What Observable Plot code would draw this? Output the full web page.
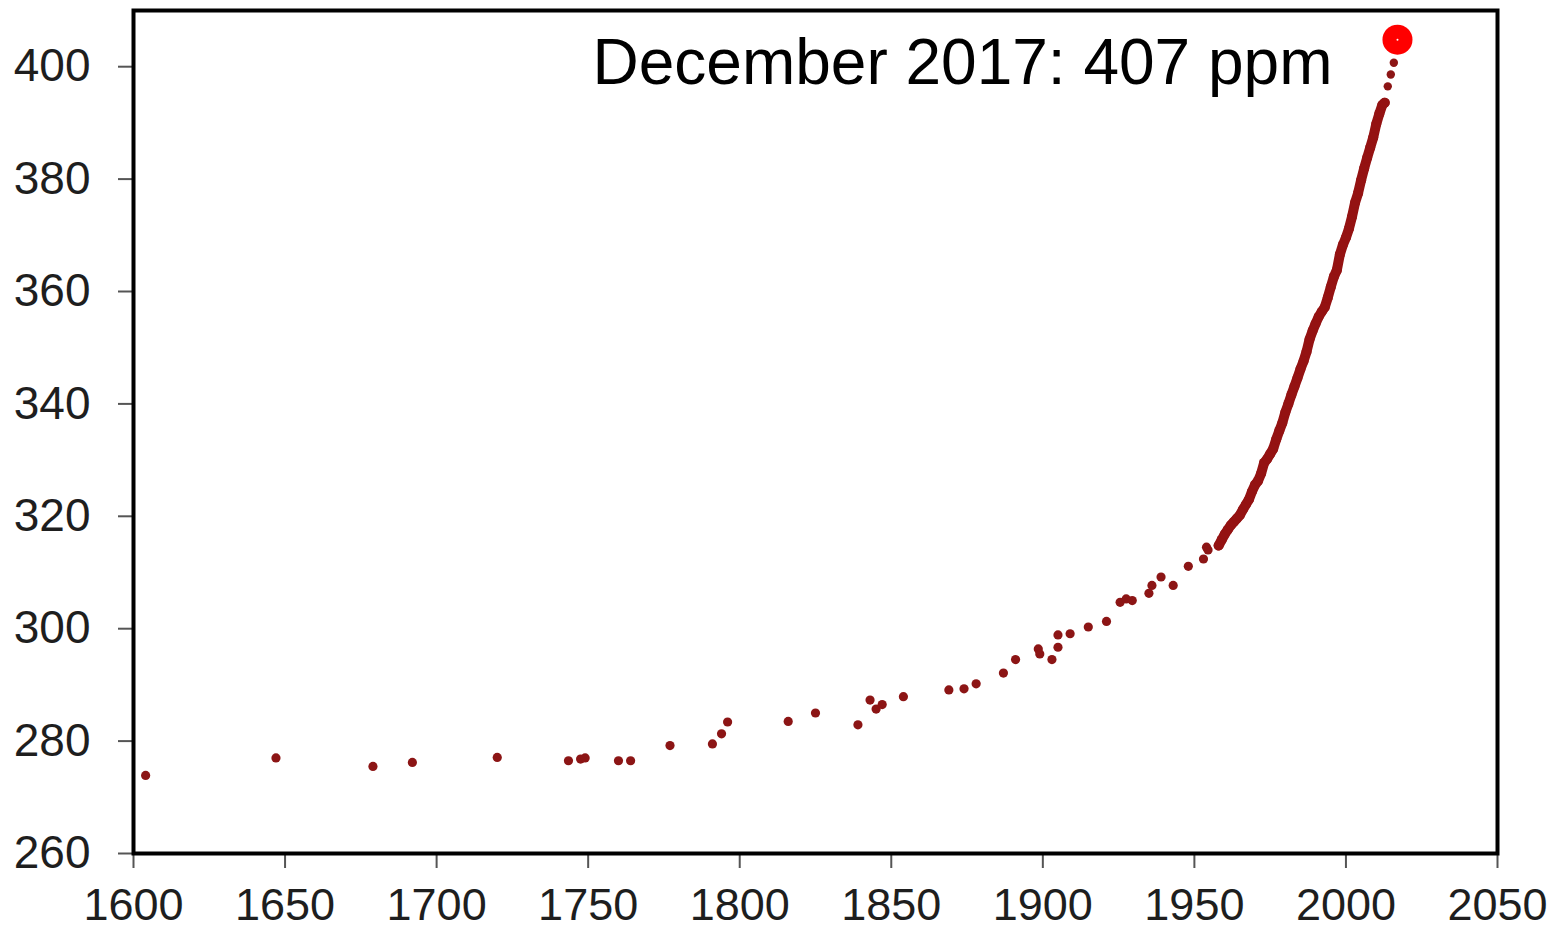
<!DOCTYPE html>
<html>
<head>
<meta charset="utf-8">
<script src="https://cdn.jsdelivr.net/npm/d3@7"></script>
<script src="https://cdn.jsdelivr.net/npm/@observablehq/plot@0.6"></script>
<style>
  html, body { margin: 0; padding: 0; background: #ffffff; }
  #chart svg { display: block; }
</style>
</head>
<body>
<div id="chart"></div>
<script>
// Ice-core era points (year, ppm)
const iceYears = [1604, 1647, 1679, 1692, 1720, 1743.5, 1747.5, 1749, 1760, 1764,
  1777, 1791, 1794, 1796, 1816, 1825, 1839, 1843, 1845, 1847,
  1854, 1869, 1874, 1878, 1887, 1891, 1898.5, 1899, 1903, 1905,
  1905, 1909, 1915, 1921, 1925.5, 1927.5, 1929.5, 1935, 1936, 1939,
  1943, 1948, 1953, 1954, 1954.5];
const icePpm = [273.9, 277.0, 275.5, 276.2, 277.1, 276.5, 276.8, 277.0, 276.5, 276.5,
  279.2, 279.5, 281.3, 283.4, 283.5, 285.0, 282.9, 287.3, 285.7, 286.5,
  287.9, 289.1, 289.3, 290.2, 292.1, 294.5, 296.4, 295.5, 294.5, 298.9,
  296.7, 299.1, 300.3, 301.3, 304.7, 305.3, 305.0, 306.3, 307.7, 309.2,
  307.7, 311.1, 312.4, 314.5, 314.0];

// Dense instrumental band
const bandYears = [1958, 1959, 1960, 1961, 1962, 1963, 1964, 1965, 1966, 1967,
  1968, 1969, 1970, 1971, 1972, 1973, 1974, 1975, 1976, 1977,
  1978, 1979, 1980, 1981, 1982, 1983, 1984, 1985, 1986, 1987,
  1988, 1989, 1990, 1991, 1992, 1993, 1994, 1995, 1996, 1997,
  1998, 1999, 2000, 2001, 2002, 2003, 2004, 2005, 2006, 2007,
  2008, 2009, 2010, 2011, 2012, 2012.8];
const bandPpm = [314.8, 315.8, 316.8, 317.6, 318.4, 319.0, 319.6, 320.2, 321.2, 322.1,
  323.0, 324.4, 325.6, 326.3, 327.6, 329.5, 330.2, 331.1, 332.0, 333.7,
  335.2, 336.6, 338.5, 340.0, 341.6, 343.1, 344.6, 346.2, 347.6, 349.3,
  351.5, 353.0, 354.3, 355.5, 356.4, 357.2, 358.9, 360.8, 362.6, 363.8,
  366.6, 368.3, 369.6, 371.2, 373.3, 375.8, 377.5, 379.8, 381.9, 383.8,
  385.6, 387.4, 389.8, 391.6, 393.2, 393.6];

// Separate recent points
const recentYears = [2013.8, 2014.8, 2015.8];
const recentPpm = [396.5, 398.6, 400.7];

// Highlighted latest value
const latestYears = [2017];
const latestPpm = [404.8];
const latestLabels = ["December 2017: 407 ppm"];

// Tick labels
const xTicks = [1600, 1650, 1700, 1750, 1800, 1850, 1900, 1950, 2000, 2050];
const yTicks = [260, 280, 300, 320, 340, 360, 380, 400];

const ice = iceYears.map((year, i) => ({year, ppm: icePpm[i]}));
const band = bandYears.map((year, i) => ({year, ppm: bandPpm[i]}));
const recent = recentYears.map((year, i) => ({year, ppm: recentPpm[i]}));
const latest = latestYears.map((year, i) => ({year, ppm: latestPpm[i], label: latestLabels[i]}));

const dotColor = "#8c1515";

const chart = Plot.plot({
  width: 1564,
  height: 931,
  marginLeft: 133,
  marginRight: 67,
  marginTop: 10,
  marginBottom: 78,
  style: {
    fontFamily: "'Liberation Sans', Arial, Helvetica, sans-serif",
    background: "#ffffff",
    color: "#1e1e1e"
  },
  x: {domain: [1600, 2050], label: null},
  y: {domain: [260, 410], label: null},
  marks: [
    Plot.axisX({ticks: xTicks, tickFormat: "d", tickSize: 15, tickPadding: 20,
      fontSize: 45, stroke: "#555555", strokeWidth: 2, fill: "#1e1e1e", label: null}),
    Plot.axisY({ticks: yTicks, tickFormat: "d", tickSize: 15, tickPadding: 28,
      fontSize: 46, stroke: "#555555", strokeWidth: 2, fill: "#1e1e1e", label: null}),
    Plot.line(band, {x: "year", y: "ppm", stroke: "#941212", strokeWidth: 10,
      strokeLinecap: "round", strokeLinejoin: "round"}),
    Plot.dot(band, {x: "year", y: "ppm", r: 5, fill: "#941212"}),
    Plot.dot(ice, {x: "year", y: "ppm", r: 4.6, fill: dotColor, symbol: "circle"}),
    Plot.dot(recent, {x: "year", y: "ppm", r: 4.2, fill: dotColor}),
    Plot.dot(latest, {x: "year", y: "ppm", r: 15, fill: "#ff0000"}),
    Plot.dot(latest, {x: "year", y: "ppm", r: 1, fill: "#ffffff"}),
    Plot.text(latest, {x: "year", y: "ppm", text: "label", fontSize: 64,
      textAnchor: "end", lineAnchor: "bottom", dx: -65, dy: 44, fill: "#000000"}),
    Plot.frame({stroke: "#000000", strokeWidth: 4})
  ]
});

document.getElementById("chart").appendChild(chart);
</script>
</body>
</html>
